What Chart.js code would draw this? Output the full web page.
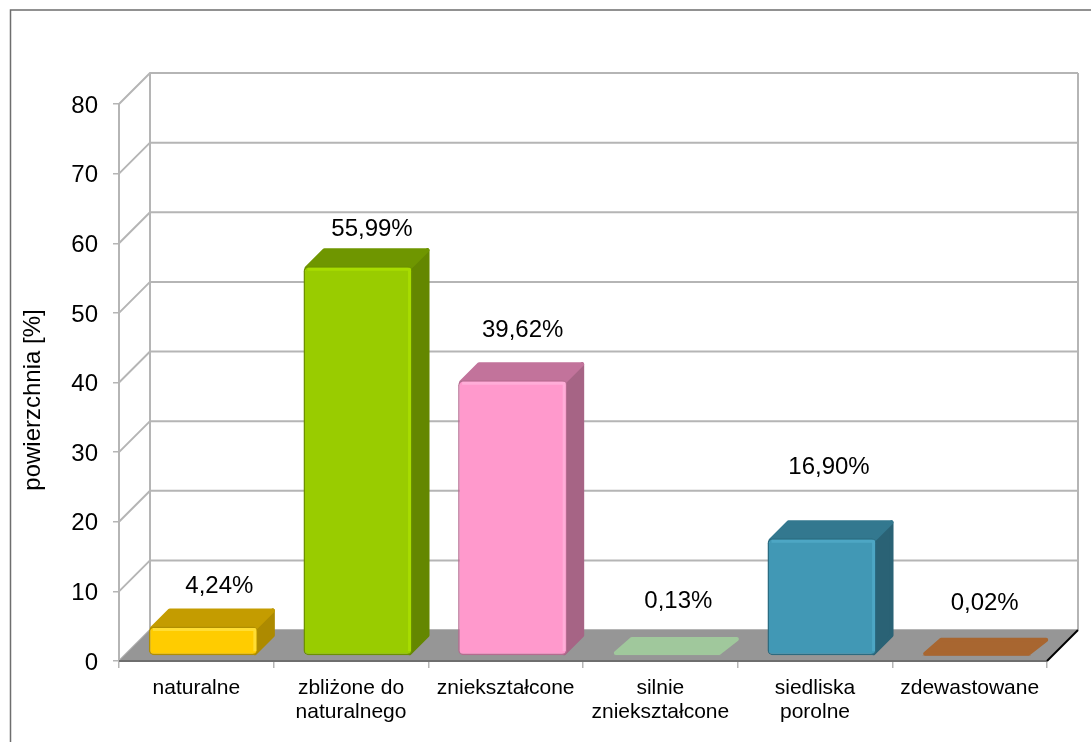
<!DOCTYPE html>
<html lang="pl">
<head>
<meta charset="utf-8">
<title>powierzchnia</title>
<script src="https://cdn.jsdelivr.net/npm/chart.js@4"></script>
<style>
  html, body { margin: 0; padding: 0; background: #fff; overflow: hidden; }
  #box { position: relative; width: 1091px; height: 742px; }
  canvas { display: block; }
</style>
</head>
<body>
<div id="box"><canvas id="myChart" width="1091" height="742"></canvas></div>
<script>
// dane
const categories = ['naturalne', ['zbliżone do', 'naturalnego'], 'zniekształcone', ['silnie', 'zniekształcone'], ['siedliska', 'porolne'], 'zdewastowane'];
const values = [4.24, 55.99, 39.62, 0.13, 16.90, 0.02];
const yMax = 80;
const yStep = 10;
const yTitle = 'powierzchnia [%]';

// kolory
const frontColors = ['#FFCC00', '#99CC00', '#FF99CC', '#A0C89C', '#4198B5', '#A86630'];
const edgeColors = ['#B08E00', '#6C9000', '#B56C90', '#A0C89C', '#2C6B80', '#A86630'];
const shineColors = ['#FFDD33', '#A8DC00', '#FFADD8', '#A0C89C', '#4DA6C4', '#A86630'];
const topColors = ['#C49C00', '#6F9600', '#C2739B', '#A0C89C', '#33788F', '#A86630'];
const sideColors = ['#AD8A00', '#648700', '#A66485', '#A0C89C', '#2A6275', '#A86630'];

// przesuniecia etykiet wzgledem slupka (recznie ustawione jak w oryginale)
const labelShiftX = [23, 21, 17, 18, 14, 15];
const labelShiftY = [-45, -42, -55, -59, -76, -57];

const wallDepth = 31;
const barDepth = 18;
const barShiftX = 7;
const barShiftY = -5;
const cornerInset = 2;
const gridColor = '#B5B5B5';
const font = '"Liberation Sans", Arial, sans-serif';

// wielokat z zaokraglonymi rogami (gruba obwodka w tym samym kolorze)
function poly(ctx, pts, fill) {
  ctx.beginPath();
  pts.forEach((p, i) => i ? ctx.lineTo(p[0], p[1]) : ctx.moveTo(p[0], p[1]));
  ctx.closePath();
  ctx.fillStyle = fill;
  ctx.strokeStyle = fill;
  ctx.lineWidth = cornerInset * 2;
  ctx.lineJoin = 'round';
  ctx.fill();
  ctx.stroke();
}

const frame = {
  id: 'frame',
  beforeDraw(chart) {
    const ctx = chart.ctx;
    ctx.save();
    ctx.strokeStyle = '#6E6E6E';
    ctx.lineWidth = 1.5;
    ctx.beginPath();
    ctx.moveTo(10.5, chart.height);
    ctx.lineTo(10.5, 10);
    ctx.lineTo(chart.width, 10);
    ctx.stroke();
    ctx.restore();
  }
};

// sciany i podloga wykresu 3D
const walls = {
  id: 'walls',
  beforeDatasetsDraw(chart) {
    const ctx = chart.ctx, a = chart.chartArea, y = chart.scales.y, d = wallDepth;
    const zero = y.getPixelForValue(0);
    ctx.save();
    ctx.strokeStyle = gridColor;
    ctx.lineWidth = 2;
    y.ticks.forEach(t => {
      const py = y.getPixelForValue(t.value);
      ctx.beginPath();
      ctx.moveTo(a.left, py);
      ctx.lineTo(a.left + d, py - d);
      ctx.lineTo(a.right + d, py - d);
      ctx.stroke();
    });
    ctx.beginPath();
    ctx.moveTo(a.left + d, a.top - d);
    ctx.lineTo(a.left + d, zero - d);
    ctx.moveTo(a.right + d, a.top - d);
    ctx.lineTo(a.right + d, zero - d);
    ctx.stroke();
    // podloga
    ctx.beginPath();
    ctx.moveTo(a.left, zero);
    ctx.lineTo(a.left + d, zero - d);
    ctx.lineTo(a.right + d, zero - d);
    ctx.lineTo(a.right, zero);
    ctx.closePath();
    ctx.fillStyle = '#969696';
    ctx.fill();
    ctx.strokeStyle = '#6E6E6E';
    ctx.lineWidth = 2;
    ctx.beginPath();
    ctx.moveTo(a.left, zero);
    ctx.lineTo(a.right, zero);
    ctx.stroke();
    ctx.strokeStyle = '#000';
    ctx.beginPath();
    ctx.moveTo(a.right, zero);
    ctx.lineTo(a.right + d, zero - d);
    ctx.stroke();
    ctx.restore();
  }
};

// boki slupkow, sam slupek rysuje Chart.js
const bars3d = {
  id: 'bars3d',
  beforeDatasetDraw(chart, args) {
    const ctx = chart.ctx, d = barDepth, n = cornerInset;
    ctx.save();
    ctx.translate(barShiftX, barShiftY);
    args.meta.data.forEach((bar, i) => {
      const l = bar.x - bar.width / 2 + 1, r = bar.x + bar.width / 2 - 1;
      const t = bar.y, b = bar.base;
      if (b - t > 3) {
        poly(ctx, [[r - n, t + n], [r + d - n, t - d + n], [r + d - n, b - d - n], [r - n, b - n]], sideColors[i]);
        poly(ctx, [[l + n, t + n], [l + d + n, t - d + n], [r + d - n, t - d + n], [r - n, t + n]], topColors[i]);
      } else {
        // prawie zerowa wartosc: widac tylko wierzch
        poly(ctx, [[l + n, t - n], [l + d, t - d + n], [r + d - n, t - d + n], [r - n, t - n]], topColors[i]);
      }
    });
  },
  afterDatasetDraw(chart, args) {
    const ctx = chart.ctx;
    args.meta.data.forEach((bar, i) => {
      const l = bar.x - bar.width / 2 + 4, r = bar.x + bar.width / 2 - 3;
      const t = bar.y + 3, b = bar.base - 4;
      if (b - t < 6) return;
      ctx.strokeStyle = shineColors[i];
      ctx.lineWidth = 3;
      ctx.lineJoin = 'round';
      ctx.beginPath();
      ctx.moveTo(l, t);
      ctx.lineTo(r, t);
      ctx.lineTo(r, b);
      ctx.stroke();
    });
    ctx.restore();
  }
};

const valueLabels = {
  id: 'valueLabels',
  afterDatasetsDraw(chart) {
    const ctx = chart.ctx;
    ctx.save();
    ctx.font = '24px ' + font;
    ctx.fillStyle = '#000';
    ctx.textAlign = 'center';
    ctx.textBaseline = 'middle';
    chart.getDatasetMeta(0).data.forEach((bar, i) => {
      const txt = values[i].toFixed(2).replace('.', ',') + '%';
      ctx.fillText(txt, bar.x + labelShiftX[i], bar.y + labelShiftY[i]);
    });
    // tytul osi y
    ctx.translate(33, 400);
    ctx.rotate(-Math.PI / 2);
    ctx.fillText(yTitle, 0, 0);
    ctx.restore();
  }
};

new Chart(document.getElementById('myChart'), {
  type: 'bar',
  data: {
    labels: categories,
    datasets: [{
      data: values,
      backgroundColor: frontColors,
      borderColor: edgeColors,
      borderWidth: 1.5,
      borderRadius: 5,
      borderSkipped: false,
      categoryPercentage: 1,
      barPercentage: 0.705,
      clip: false
    }]
  },
  options: {
    responsive: false,
    animation: false,
    layout: { padding: { top: 104, right: 44, left: 0, bottom: 0 } },
    plugins: { legend: { display: false }, tooltip: { enabled: false } },
    scales: {
      x: {
        afterFit: s => { s.height = 81; },
        offset: true,
        border: { display: false },
        grid: { drawOnChartArea: false, color: gridColor, lineWidth: 1.5, tickLength: 7 },
        ticks: { autoSkip: false, maxRotation: 0, minRotation: 0, padding: 8, color: '#000', font: { family: font, size: 21, lineHeight: 1.15 } }
      },
      y: {
        afterFit: s => { s.width = 119; },
        min: 0,
        max: yMax,
        border: { color: gridColor, width: 2 },
        grid: { drawOnChartArea: false, color: gridColor, lineWidth: 1.5, tickLength: 6 },
        ticks: { stepSize: yStep, padding: 15, labelOffset: 2, color: '#000', font: { family: font, size: 24 } }
      }
    }
  },
  plugins: [frame, walls, bars3d, valueLabels]
});
</script>
</body>
</html>
